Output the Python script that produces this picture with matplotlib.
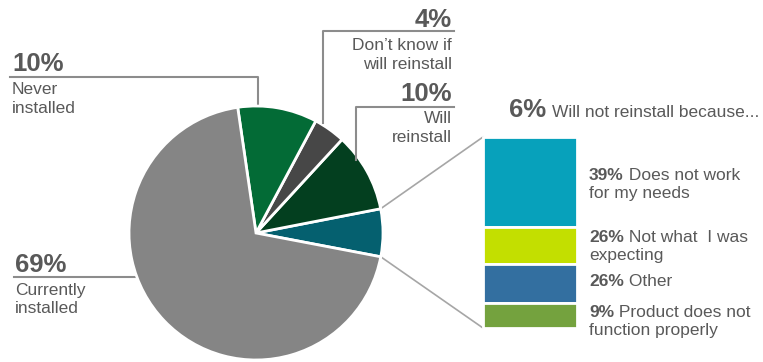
import matplotlib
matplotlib.use('Agg')
import matplotlib.pyplot as plt
import numpy as np

plt.rcParams['font.family'] = ['Liberation Sans', 'DejaVu Sans']

# pie slices, counter-clockwise from the right
pie_labels = ['Will not reinstall', 'Will reinstall', "Don't know if will reinstall",
              'Never installed', 'Currently installed']
pie_values = [6, 10, 4, 10, 69]
pie_colors = ['#05606f', '#033f1f', '#474747', '#036b36', '#858585']

# breakdown of the 6%, top to bottom
why_pct = ['39%', '26%', '26%', '9%']
why_text = [['Does not work', 'for my needs'], ['Not what  I was', 'expecting'],
            ['Other'], ['Product does not', 'function properly']]
why_size = [89.5, 37.5, 39, 25]   # segment heights as drawn in the picture
why_colors = ['#07a1bb', '#c3df00', '#336fa0', '#74a23e']

W, H = 763, 362
txt = '#595959'
line_c = '#8c8c8c'

fig = plt.figure(figsize=(W / 100, H / 100), dpi=100)
ax = fig.add_axes([0, 0, 1, 1])
ax.set_xlim(0, W)
ax.set_ylim(0, H)
ax.axis('off')


def Y(y):
    return H - y


cx, cy, r = 256, Y(233), 127
wedges, _ = ax.pie(pie_values, colors=pie_colors, startangle=-10.8, counterclock=True,
                   center=(cx, cy), radius=r, frame=True,
                   wedgeprops=dict(edgecolor='white', linewidth=2))
ax.set_xlim(0, W)
ax.set_ylim(0, H)
ax.set_aspect('equal')
ax.axis('off')

# stacked bar for the reasons
bar_x, bar_w = 530, 94
bar_top = Y(137)
tops = bar_top - np.concatenate([[0], np.cumsum(why_size)[:-1]])
bottoms = tops - np.array(why_size)
bars = ax.bar([bar_x] * 4, why_size, bottom=bottoms, width=bar_w,
              color=why_colors, edgecolor='white', linewidth=2)

# connector lines from the 6% slice to the bar
t1, t2 = np.radians(wedges[0].theta1), np.radians(wedges[0].theta2)
x_left = bar_x - bar_w / 2
ax.plot([cx + r * np.cos(t2), x_left], [cy + r * np.sin(t2), tops[0]],
        color='#a6a6a6', lw=1.2, zorder=0)
ax.plot([cx + r * np.cos(t1), x_left], [cy + r * np.sin(t1), bottoms[-1]],
        color='#a6a6a6', lw=1.2, zorder=0)

big = 18.5
small = 12.5

# 10% never installed
ax.plot([10, 258, 258], [Y(77), Y(77), Y(108)], color=line_c, lw=1.5, zorder=0)
ax.text(12, Y(71), '10%', fontsize=big, fontweight='bold', color=txt, va='baseline')
ax.text(12, Y(94), 'Never', fontsize=small, color=txt, va='baseline')
ax.text(12, Y(113), 'installed', fontsize=small, color=txt, va='baseline')

# 4% don't know
ax.plot([323, 323, 454], [Y(123), Y(31), Y(31)], color=line_c, lw=1.5, zorder=3)
ax.text(452, Y(27), '4%', fontsize=big, fontweight='bold', color=txt, va='baseline', ha='right')
ax.text(452, Y(50), 'Don\u2019t know if', fontsize=small, color=txt, va='baseline', ha='right')
ax.text(452, Y(69), 'will reinstall', fontsize=small, color=txt, va='baseline', ha='right')

# 10% will reinstall
ax.plot([356, 356, 454], [Y(160), Y(107), Y(107)], color=line_c, lw=1.5, zorder=3)
ax.text(452, Y(101), '10%', fontsize=big, fontweight='bold', color=txt, va='baseline', ha='right')
ax.text(452, Y(123), 'Will', fontsize=small, color=txt, va='baseline', ha='right')
ax.text(452, Y(142), 'reinstall', fontsize=small, color=txt, va='baseline', ha='right')

# 69% currently installed
ax.plot([14, 150], [Y(277), Y(277)], color=line_c, lw=1.5, zorder=0)
ax.text(15, Y(272), '69%', fontsize=big, fontweight='bold', color=txt, va='baseline')
ax.text(15, Y(295), 'Currently', fontsize=small, color=txt, va='baseline')
ax.text(15, Y(313), 'installed', fontsize=small, color=txt, va='baseline')

# 6% header
ax.text(509, Y(117), '6%', fontsize=big, fontweight='bold', color=txt, va='baseline')
ax.text(552, Y(117), 'Will not reinstall because...', fontsize=small, color=txt, va='baseline')

# reason labels
first_base = [180, 242, 286, 317]
for pct, lines, yb in zip(why_pct, why_text, first_base):
    t = ax.text(589, Y(yb), pct, fontsize=small, fontweight='bold', color=txt, va='baseline')
    ax.annotate(' ' + lines[0], xycoords=t, xy=(1, 0), va='bottom',
                fontsize=small, color=txt)
    for k, extra in enumerate(lines[1:]):
        ax.text(589, Y(yb + 18 * (k + 1)), extra, fontsize=small, color=txt, va='baseline')

fig.savefig('out.png', dpi=100, facecolor='white')
